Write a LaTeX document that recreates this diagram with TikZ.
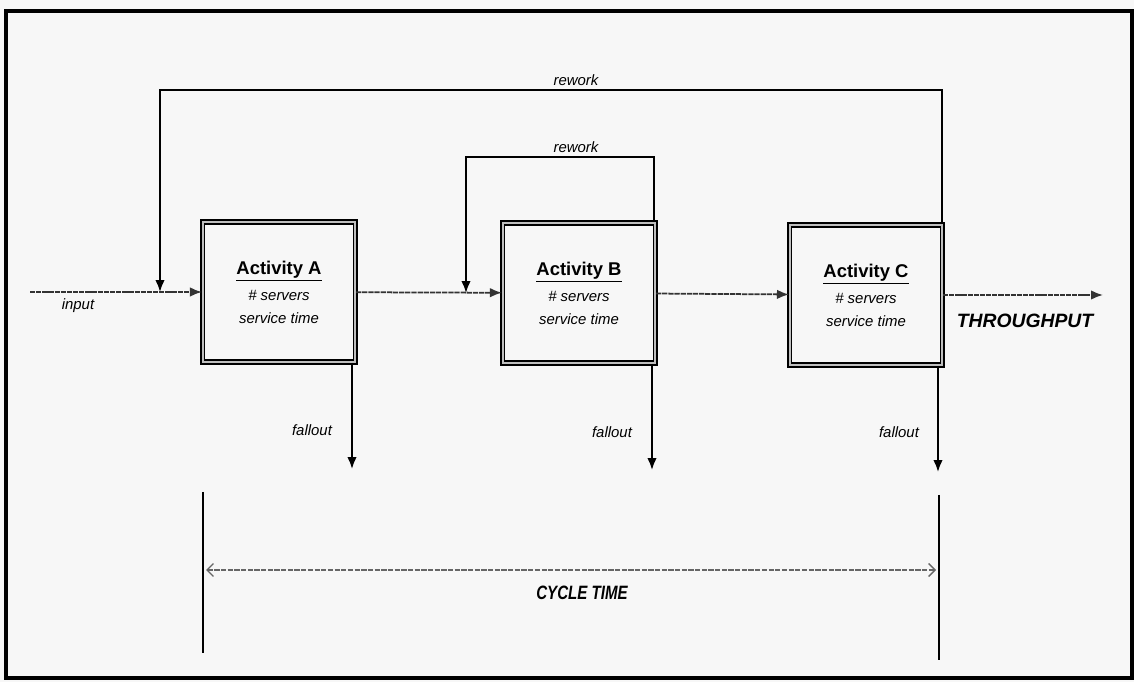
\documentclass[tikz,border=0pt]{standalone}
\usepackage{fontspec}
\setmainfont{Liberation Sans}
\usetikzlibrary{positioning,arrows.meta}
\tikzset{
  flowarrow/.style={-{Latex[length=2.4mm,width=1.9mm]}, line width=1pt, black!80, dash pattern=on 3pt off 0.5pt},
  loopline/.style={-{Latex[length=2.4mm,width=1.9mm]}, line width=1pt},
  actnode/.style={draw, line width=0.9pt, double=black!25, double distance=1.2pt, minimum width=3.05cm, minimum height=2.8cm, align=center, inner sep=0pt, font=\fontsize{8.5}{10}\selectfont},
  relabel/.style={font=\fontsize{8.5}{10}\selectfont\itshape, inner sep=1pt},
  bigtag/.style={font=\fontsize{11}{13}\selectfont\bfseries\itshape, inner sep=1pt},
  cyclearrow/.style={{Straight Barb[length=1.3mm,width=2.6mm]}-{Straight Barb[length=1.3mm,width=2.6mm]}, line width=0.8pt, black!60, dash pattern=on 3pt off 0.8pt},
  edgeline/.style={line width=0.8pt}
}
\newcommand{\actlabel}[1]{{\fontsize{10.5}{12}\selectfont\bfseries\underline{#1}}\\[5pt]\textit{\# servers}\\[3pt]\textit{service time}}

\begin{document}
\begin{tikzpicture}[x=0.02cm, y=-0.02cm]
  \useasboundingbox (0,0) rectangle (1134,682);
  \fill[black!3] (0,0) rectangle (1134,682);
  \draw[line width=2.4pt] (6,11) rectangle (1132,678);
  % activities
  \node[actnode] (A) at (279,292) {\actlabel{Activity A}};
  \node[actnode] (B) at (579,293) {\actlabel{Activity B}};
  \node[actnode] (C) at (866,295) {\actlabel{Activity C}};
  % ends and joints
  \coordinate (in) at (30,292);
  \coordinate (out) at (1103,295);
  \coordinate (jA) at (160,292);
  \coordinate (jB) at (466,293);
  \coordinate (topC) at (942,90);
  \coordinate (topB) at (654,157);
  \coordinate (fA) at (352,469);
  \coordinate (fB) at (652,470);
  \coordinate (fC) at (938,472);
  % main flow
  \draw[flowarrow] (in) -- (A);
  \draw[flowarrow] (A) -- (B);
  \draw[flowarrow] (B) -- (C);
  \draw[flowarrow] (C) -- (out);
  % rework loops
  \draw[loopline] (C.north -| topC) -- (topC) -| (jA);
  \draw[loopline] (B.north -| topB) -- (topB) -| (jB);
  % fallout
  \draw[loopline] (A.south -| fA) -- (fA);
  \draw[loopline] (B.south -| fB) -- (fB);
  \draw[loopline] (C.south -| fC) -- (fC);
  % labels
  \node[relabel] (inlbl) at (78,306) {input};
  \node[relabel] (rwtop) at (576,80) {rework};
  \node[relabel] (rwmid) at (576,147) {rework};
  \node[relabel] (faA) at (312,430) {fallout};
  \node[relabel] (faB) at (612,432) {fallout};
  \node[relabel] (faC) at (899,432) {fallout};
  \node[bigtag] (thru) at (1025,321) {THROUGHPUT};
  % cycle time
  \coordinate (ctL1) at (203,492);
  \coordinate (ctL2) at (203,653);
  \coordinate (ctR1) at (939,495);
  \coordinate (ctR2) at (939,660);
  \coordinate (ctA) at (206,570);
  \coordinate (ctB) at (936,570);
  \draw[edgeline] (ctL1) -- (ctL2);
  \draw[edgeline] (ctR1) -- (ctR2);
  \draw[cyclearrow] (ctA) -- (ctB);
  \node[bigtag] (ctlbl) at (582,593) {\scalebox{0.78}[1]{CYCLE TIME}};
\end{tikzpicture}
\end{document}
